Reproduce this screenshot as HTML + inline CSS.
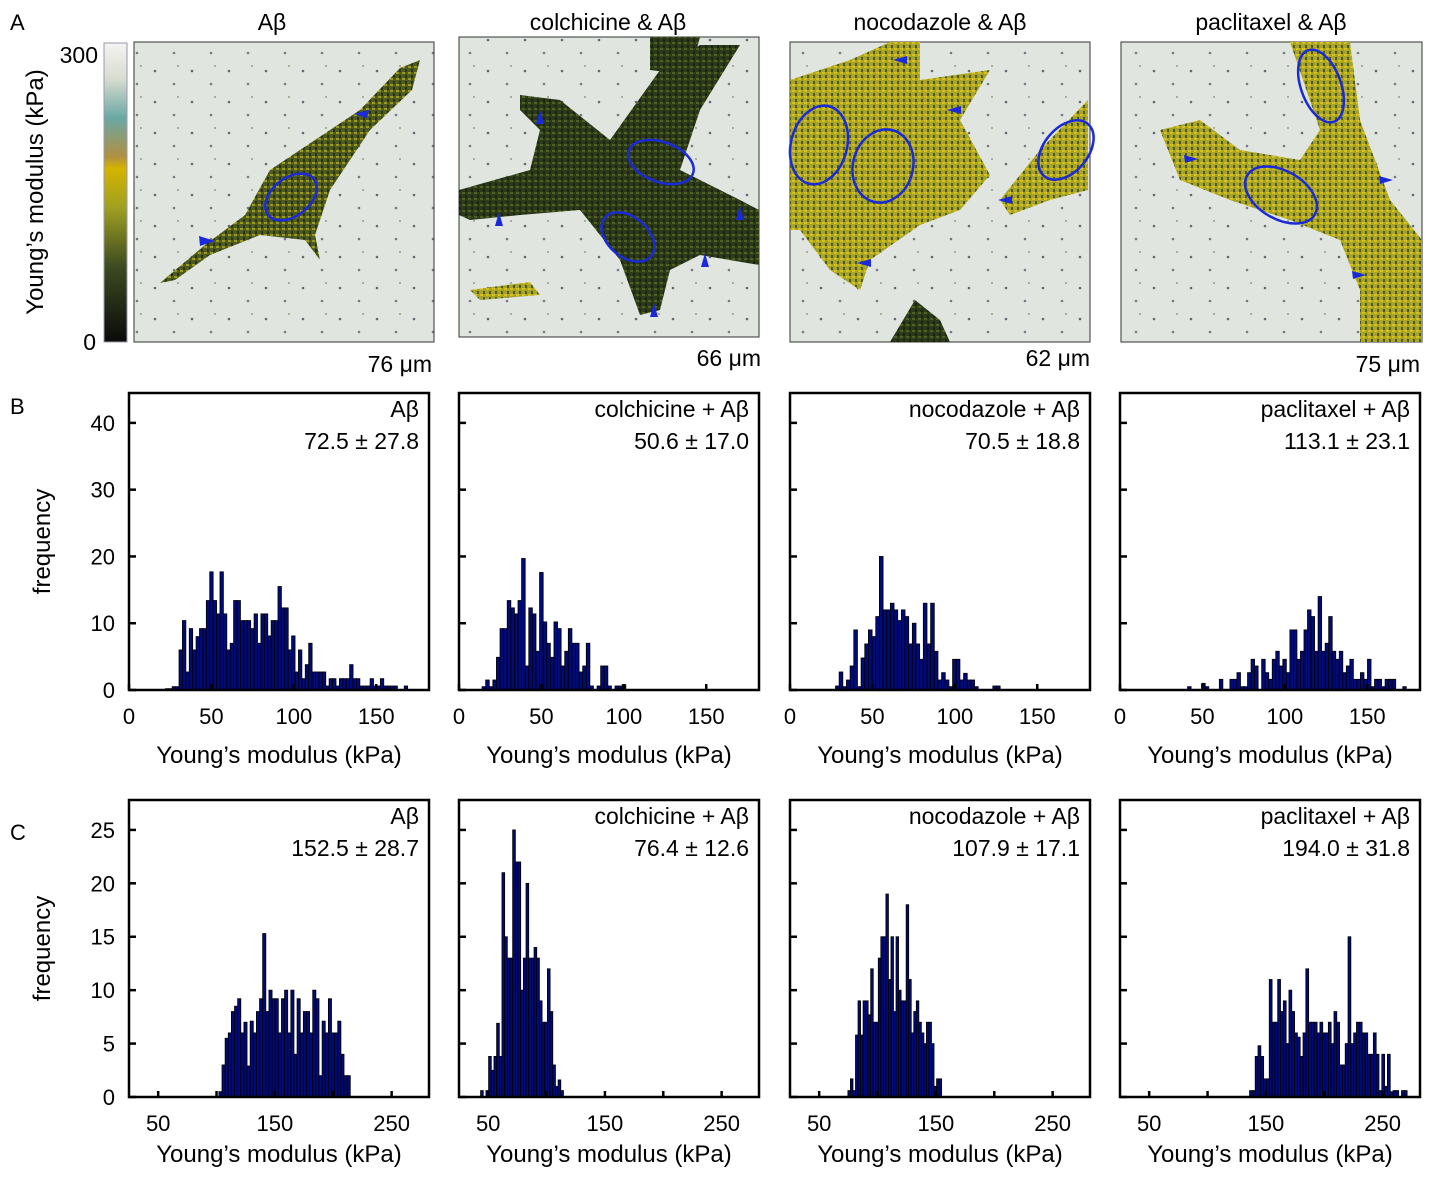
<!DOCTYPE html>
<html><head><meta charset="utf-8"><style>
body{margin:0;background:#fff}
svg text{font-family:"Liberation Sans",Arial,sans-serif;fill:#000}
</style></head><body>
<svg id="fig" width="1430" height="1180" viewBox="0 0 1430 1180" xmlns="http://www.w3.org/2000/svg">
<defs>
<linearGradient id="cbar" x1="0" y1="1" x2="0" y2="0">
<stop offset="0" stop-color="#0a0a0a"/><stop offset="0.25" stop-color="#3c4a20"/>
<stop offset="0.45" stop-color="#a0a020"/><stop offset="0.58" stop-color="#d4b400"/>
<stop offset="0.62" stop-color="#b09040"/><stop offset="0.75" stop-color="#6aa8a4"/>
<stop offset="0.88" stop-color="#d8dcd0"/><stop offset="1" stop-color="#f4f4f2"/>
</linearGradient>
<pattern id="cellTex" width="6" height="6" patternUnits="userSpaceOnUse">
<rect width="6" height="6" fill="#4e5a1e"/><rect x="0" y="0" width="3" height="2" fill="#9a9a22"/><rect x="3" y="3" width="2" height="3" fill="#2a3412"/>
</pattern>
<pattern id="cellTexY" width="6" height="6" patternUnits="userSpaceOnUse">
<rect width="6" height="6" fill="#a8a428"/><rect x="0" y="0" width="3" height="2" fill="#d4c020"/><rect x="3" y="3" width="2" height="3" fill="#4e5a1e"/>
</pattern>
<pattern id="cellTexD" width="6" height="6" patternUnits="userSpaceOnUse">
<rect width="6" height="6" fill="#2c3a1a"/><rect x="0" y="0" width="3" height="2" fill="#4e6028"/><rect x="3" y="3" width="2" height="3" fill="#1a2410"/>
</pattern>
<pattern id="dots" width="37" height="31" patternUnits="userSpaceOnUse">
<rect width="37" height="31" fill="#e0e6df"/><circle cx="7" cy="9" r="1.3" fill="#667"/><circle cx="26" cy="22" r="1.3" fill="#778"/><circle cx="30" cy="4" r="1" fill="#998"/>
</pattern>
</defs>

<text x="10" y="30" font-size="22">A</text>
<rect x="104" y="43" width="23" height="299" fill="url(#cbar)" stroke="#99a"/>
<text x="98" y="63" font-size="23" text-anchor="end">300</text>
<text x="96" y="350" font-size="23" text-anchor="end">0</text>
<text transform="translate(43,192) rotate(-90)" font-size="24" text-anchor="middle">Young’s modulus (kPa)</text>

<g>
<rect x="134" y="42" width="300" height="300" fill="url(#dots)" stroke="#333"/>
<path d="M160,283 L205,245 L245,215 L270,170 L330,130 L360,110 L400,68 L420,60 L412,90 L370,130 L330,190 L315,235 L320,260 L305,240 L260,235 L210,255 L175,280 Z" fill="url(#cellTex)"/>
<ellipse cx="291" cy="197" rx="29" ry="19" transform="rotate(-38 291 197)" fill="none" stroke="#1a2ad8" stroke-width="2.5"/>
<path d="M199,236 L215,241 L200,246 Z M369,110 L354,114 L367,118 Z" fill="#1a2ad8"/>
<text x="272" y="30" font-size="23" text-anchor="middle">Aβ</text>
<text x="432" y="372" font-size="23" text-anchor="end">76 μm</text>
</g>

<g>
<rect x="459" y="37" width="300" height="300" fill="url(#dots)" stroke="#333"/>
<path d="M520,95 L560,100 L610,140 L660,70 L700,45 L740,45 L700,110 L680,170 L740,200 L759,210 L759,265 L700,255 L670,270 L660,310 L640,315 L620,260 L580,210 L520,215 L470,220 L459,215 L459,190 L530,170 L540,130 L520,110 Z" fill="url(#cellTexD)"/>
<path d="M650,37 L700,37 L690,75 L650,70 Z" fill="url(#cellTexD)"/>
<path d="M470,290 L530,282 L540,295 L480,300 Z" fill="url(#cellTexY)"/>
<ellipse cx="661" cy="162" rx="34" ry="20" transform="rotate(20 661 162)" fill="none" stroke="#1a2ad8" stroke-width="2.5"/>
<ellipse cx="628" cy="237" rx="30" ry="20" transform="rotate(40 628 237)" fill="none" stroke="#1a2ad8" stroke-width="2.5"/>
<path d="M540,110 L536,124 L544,124 Z M499,212 L495,226 L503,226 Z M740,206 L736,220 L744,220 Z M705,253 L701,267 L709,267 Z M654,303 L650,317 L658,317 Z" fill="#1a2ad8"/>
<text x="608" y="30" font-size="23" text-anchor="middle">colchicine &amp; Aβ</text>
<text x="761" y="366" font-size="23" text-anchor="end">66 μm</text>
</g>

<g>
<rect x="790" y="42" width="300" height="300" fill="url(#dots)" stroke="#333"/>
<path d="M790,80 L850,60 L890,42 L920,42 L920,80 L990,70 L960,120 L990,175 L960,210 L920,225 L870,260 L860,290 L830,270 L800,230 L790,230 Z" fill="url(#cellTexY)"/>
<path d="M1000,200 L1040,150 L1088,100 L1088,190 L1050,200 L1010,215 Z" fill="url(#cellTexY)"/>
<path d="M890,342 L915,300 L940,320 L950,342 Z" fill="url(#cellTexD)"/>
<ellipse cx="819" cy="145" rx="28" ry="40" transform="rotate(15 819 145)" fill="none" stroke="#1a2ad8" stroke-width="2.5"/>
<ellipse cx="883" cy="166" rx="30" ry="37" transform="rotate(15 883 166)" fill="none" stroke="#1a2ad8" stroke-width="2.5"/>
<ellipse cx="1066" cy="150" rx="22" ry="34" transform="rotate(40 1066 150)" fill="none" stroke="#1a2ad8" stroke-width="2.5"/>
<path d="M893,60 L907,56 L907,64 Z M947,110 L961,106 L961,114 Z M998,200 L1012,196 L1012,204 Z M857,263 L871,259 L871,267 Z" fill="#1a2ad8"/>
<text x="940" y="30" font-size="23" text-anchor="middle">nocodazole &amp; Aβ</text>
<text x="1090" y="366" font-size="23" text-anchor="end">62 μm</text>
</g>

<g>
<rect x="1121" y="42" width="301" height="300" fill="url(#dots)" stroke="#333"/>
<path d="M1290,42 L1350,42 L1360,120 L1390,200 L1422,240 L1422,342 L1360,342 L1360,290 L1340,240 L1290,220 L1230,200 L1180,180 L1160,130 L1200,120 L1240,150 L1300,160 L1320,130 Z" fill="url(#cellTexY)"/>
<ellipse cx="1321" cy="86" rx="20" ry="38" transform="rotate(-20 1321 86)" fill="none" stroke="#1a2ad8" stroke-width="2.5"/>
<ellipse cx="1281" cy="195" rx="39" ry="24" transform="rotate(30 1281 195)" fill="none" stroke="#1a2ad8" stroke-width="2.5"/>
<path d="M1184,155 L1198,159 L1185,163 Z M1393,180 L1379,176 L1380,184 Z M1366,275 L1352,271 L1353,279 Z" fill="#1a2ad8"/>
<text x="1271" y="30" font-size="23" text-anchor="middle">paclitaxel &amp; Aβ</text>
<text x="1420" y="372" font-size="23" text-anchor="end">75 μm</text>
</g>

<text x="10" y="414" font-size="22">B</text>
<text x="10" y="840" font-size="22">C</text>
<g id="charts"></g>
</svg>
<script>
const bStarts = [20, 14, 27.6, 41];
const bWidths = [2.07, 2.18, 2.22, 2.14];
const b1 = [0,0.2,0.2,0.5,0.5,6,10.4,2.7,9.2,6,8,9.2,9.2,13.4,17.7,13.4,11.4,17.7,11.4,6,7,13.4,13.4,10.4,10.4,10.4,9.2,11.4,7,11.4,11.4,8.1,10.4,10.4,15.5,12.3,12.3,6,8.1,2.7,6,1.7,3.8,7,2.7,2.7,2.7,2.7,0.6,1.7,1.7,0.6,1.7,1.7,1.7,3.8,1.7,1.7,0.6,0.6,0.6,1.7,0.6,0.6,1.7,0.6,0.6,0.6,0.6,0,0,0.6];
const b2 = [0.5,1.5,0.5,1.5,4.9,9.2,9.2,13.4,12.3,11.4,13.4,19.7,3.6,12.3,11.4,5.8,17.6,10.2,7,4.9,10.2,9.2,3.6,5.8,9.2,7,7,2.7,3.6,7,0.6,0,0.6,3.6,3.6,0.6,0,0.6,0.6,0.8];
const b3 = [0.6,2.7,0.5,1.5,3.6,9,0.5,4.8,6.9,9,8,11,20,12,12,13,12,10.4,12,11,6.9,10,6.9,4.6,13,6.9,13,5.8,1.5,2.6,1.5,0.5,4.6,4.6,1.5,2.5,1.5,1.5,0.5,0,0,0,0,0.6,0.6];
const b4 = [0.5,0,0,0,1,0.5,0,0,0,1.6,0,0,1.6,1.6,2.6,0.5,0.5,2.6,4.6,3.6,0,4.6,2.6,1.6,4.6,5.8,3.6,4.6,2.6,9,9,4.6,5.8,9,12,11,5.8,14,5.8,7,11,5.8,4.6,5.8,2.6,3.6,4.6,1.6,1.6,2.6,1.6,4.6,0.5,1.6,1.6,0.5,1.6,1.6,1.6,0,0,0.5,0];
const cStarts = [102, 43.5, 74.6, 136];
const cWidths = [2.68, 2.29, 2.17, 2.41];
const c1 = [0.5,3,5.5,6,8,8.5,9.2,6,7,2.9,7.1,6,8,9.2,15.3,8,10,9.2,9.2,6,9.2,10,6,10,4,9.2,6,8,8,6,10,9.2,2,7.1,6,9.2,6,6,7.1,4,2,2];
const c2 = [0.6,0,0.6,3.8,2.5,3.8,6.9,3.8,21,15,13,13,25,22,22,10,13,20,13,13,14,13,9,7,7,12,8,3,1,1.6,0.6];
const c3 = [0.6,1.7,0.6,5.8,9,5.8,9,9,7.7,12,7,7,13,15,15,19,11,15,8,15,10,9,9,18,11,6,8,9,7,6,5,7,7,5,1,1.7,1.7];
const c4 = [0.6,0.6,3.8,4.8,3.8,1.7,1.7,11,7,7,11,8,9,5,10,8,6,5.6,3.8,6,12,7,7,7,6,7,6,6,7,5,8,7,3,3,5,15,5,6,7,7,6,6,4,4,6,4,0.6,4,1,4,0.5,0.6,0.6,0,0.6,0.6];
const titles = ["Aβ","colchicine + Aβ","nocodazole + Aβ","paclitaxel + Aβ"];
const bStats = ["72.5 ± 27.8","50.6 ± 17.0","70.5 ± 18.8","113.1 ± 23.1"];
const cStats = ["152.5 ± 28.7","76.4 ± 12.6","107.9 ± 17.1","194.0 ± 31.8"];
const bYTicks = [0,10,20,30,40];
const cYTicks = [0,5,10,15,20,25];
const bXTicks = [0,50,100,150];
const bXLabels = ["0","50","100","150"];
const cXTicks = [50,100,150,200,250];
const cXLabels = ["50","","150","","250"];

const NS="http://www.w3.org/2000/svg";
const root=document.getElementById('charts');
function mk(tag,attrs,parent){const e=document.createElementNS(NS,tag);for(const k in attrs)e.setAttribute(k,attrs[k]);(parent||root).appendChild(e);return e;}
const lefts=[129,459,790,1120];
function drawRow(row){
  const isB=row==='b';
  const top=isB?393:800, bottom=isB?690:1097, W=300;
  const xmin=isB?0:25, xmax=isB?182:282;
  const ymax=isB?(40+(bottom-top-267)/6.7):27.8;
  const ys=(bottom-top)/ymax;
  const data=isB?[b1,b2,b3,b4]:[c1,c2,c3,c4];
  const starts=isB?bStarts:cStarts, widths=isB?bWidths:cWidths;
  for(let p=0;p<4;p++){
    const L=lefts[p];
    const xs=v=>L+(v-xmin)/(xmax-xmin)*W;
    const ysc=v=>bottom-v*ys;
    const g=mk('g',{});
    
    
    data[p].forEach((v,i)=>{
      if(v<=0)return;
      const x0=xs(starts[p]+i*widths[p]), x1=xs(starts[p]+(i+1)*widths[p]);
      const r=mk('rect',{x:x0,y:ysc(v),width:x1-x0,height:bottom-ysc(v),fill:'#000a78',stroke:'#000','stroke-width':0.8},g);
      
      
    });
    const box=mk('rect',{x:L,y:top,width:W,height:bottom-top,fill:'none',stroke:'#000','stroke-width':2.5},g);
    
    
    (isB?bYTicks:cYTicks).forEach(t=>{
      mk('line',{x1:L,x2:L+7,y1:ysc(t),y2:ysc(t),stroke:'#000','stroke-width':2.5},g);
      if(p===0){const tx=mk('text',{x:L-14,y:ysc(t)+8,'font-size':22,'text-anchor':'end'},g);tx.textContent=t;
        
        }
    });
    const xt=isB?bXTicks:cXTicks, xl=isB?bXLabels:cXLabels;
    xt.forEach((t,i)=>{
      mk('line',{x1:xs(t),x2:xs(t),y1:bottom,y2:bottom-6,stroke:'#000','stroke-width':2.5},g);
      if(xl[i]){const tx=mk('text',{x:xs(t),y:bottom+34,'font-size':22,'text-anchor':'middle'},g);tx.textContent=xl[i];
        
        }
    });
    const t1=mk('text',{x:L+W-10,y:top+24,'font-size':23,'text-anchor':'end'},g);t1.textContent=titles[p];
    
    
    const t2=mk('text',{x:L+W-10,y:top+56,'font-size':23,'text-anchor':'end'},g);t2.textContent=(isB?bStats:cStats)[p];
    
    
    const xa=mk('text',{x:L+W/2,y:isB?763:1162,'font-size':24,'text-anchor':'middle'},g);xa.textContent='Young’s modulus (kPa)';
    
    
  }
  const ya=mk('text',{transform:'translate(50,'+((top+bottom)/2)+') rotate(-90)','font-size':24,'text-anchor':'middle'});
  ya.textContent='frequency';
  
  
}
drawRow('b');drawRow('c');
</script>
</body></html>
